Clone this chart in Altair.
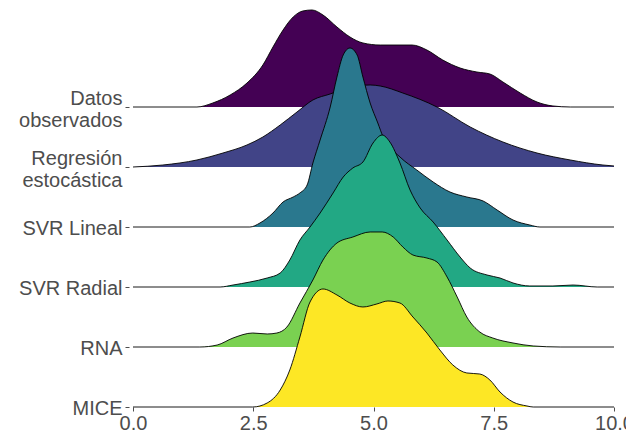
import json
import altair as alt
import pandas as pd

# Ridge names, top to bottom
series = ["Datos\nobservados", "Regresión\nestocástica", "SVR Lineal", "SVR Radial", "RNA", "MICE"]
colors = ["#440154", "#414487", "#2A788E", "#22A884", "#7AD151", "#FDE725"]

# Density curves (x value, scaled density height)
datos_x = [0, 1.33, 1.66, 2.02, 2.37, 2.70, 2.91, 3.12, 3.33, 3.53, 3.72, 3.95, 4.24, 4.51, 4.78, 5.14, 5.80, 6.11, 6.44, 6.80, 7.15, 7.42, 7.69, 8.05, 8.40, 8.73, 9.09, 10]
datos_h = [0, 0, 0.067, 0.2, 0.4, 0.7, 1.0, 1.283, 1.5, 1.6, 1.617, 1.533, 1.333, 1.167, 1.067, 1.033, 1.033, 0.95, 0.783, 0.65, 0.583, 0.55, 0.417, 0.233, 0.083, 0.017, 0, 0]

regr_x = [0, 0.62, 1.33, 1.87, 2.37, 2.70, 3.06, 3.41, 3.74, 4.10, 4.51, 4.93, 5.14, 5.61, 6.32, 7.01, 7.69, 8.40, 9.09, 9.77, 10]
regr_h = [0, 0.033, 0.117, 0.233, 0.367, 0.5, 0.7, 0.917, 1.117, 1.217, 1.33, 1.367, 1.35, 1.233, 1.0, 0.667, 0.417, 0.233, 0.117, 0.033, 0.017]

svrl_x = [0, 2.43, 2.64, 2.91, 3.12, 3.33, 3.47, 3.62, 3.74, 3.89, 4.10, 4.24, 4.37, 4.51, 4.66, 4.78, 4.93, 5.09, 5.20, 5.55, 5.90, 6.24, 6.59, 6.94, 7.28, 7.57, 7.90, 8.25, 8.46, 10]
svrl_h = [0, 0, 0.067, 0.233, 0.417, 0.5, 0.567, 0.7, 1.067, 1.45, 2.0, 2.5, 2.867, 2.983, 2.867, 2.5, 2.067, 1.733, 1.5, 1.167, 0.95, 0.75, 0.583, 0.5, 0.433, 0.283, 0.117, 0.033, 0, 0]

svrr_x = [0, 1.81, 2.08, 2.43, 2.79, 3.06, 3.26, 3.47, 3.68, 3.89, 4.16, 4.37, 4.57, 4.78, 4.99, 5.18, 5.34, 5.55, 5.76, 5.97, 6.24, 6.53, 6.80, 7.01, 7.36, 7.63, 7.90, 8.25, 8.73, 9.15, 9.65, 10]
svrr_h = [0, 0, 0.033, 0.083, 0.15, 0.233, 0.45, 0.783, 1.0, 1.233, 1.567, 1.833, 1.983, 2.083, 2.4, 2.533, 2.417, 2.067, 1.617, 1.317, 1.083, 0.783, 0.5, 0.317, 0.2, 0.15, 0.067, 0.017, 0.017, 0.033, 0, 0]

rna_x = [0, 1.39, 1.75, 2.08, 2.49, 2.79, 2.99, 3.20, 3.47, 3.74, 3.95, 4.24, 4.57, 4.93, 5.18, 5.41, 5.61, 5.82, 6.11, 6.32, 6.53, 6.74, 6.94, 7.21, 7.48, 7.90, 8.32, 8.88, 10]
rna_h = [0, 0, 0.033, 0.15, 0.233, 0.217, 0.233, 0.333, 0.733, 1.117, 1.45, 1.733, 1.833, 1.917, 1.917, 1.833, 1.667, 1.533, 1.483, 1.417, 1.167, 0.833, 0.5, 0.25, 0.15, 0.067, 0.017, 0, 0]

mice_x = [0, 2.49, 2.79, 3.06, 3.26, 3.47, 3.68, 3.95, 4.24, 4.51, 4.78, 5.07, 5.30, 5.55, 5.82, 6.11, 6.38, 6.65, 6.94, 7.21, 7.42, 7.63, 7.90, 8.19, 8.32, 10]
mice_h = [0, 0, 0.067, 0.283, 0.617, 1.167, 1.75, 1.967, 1.867, 1.733, 1.667, 1.717, 1.767, 1.733, 1.5, 1.233, 0.95, 0.7, 0.567, 0.55, 0.45, 0.25, 0.083, 0.017, 0, 0]

x_ticks = [0, 2.5, 5, 7.5, 10]

curves = [(datos_x, datos_h), (regr_x, regr_h), (svrl_x, svrl_h),
          (svrr_x, svrr_h), (rna_x, rna_h), (mice_x, mice_h)]

rows = []
n = len(series)
for i, (name, (xs, hs)) in enumerate(zip(series, curves)):
    base = n - 1 - i
    for xv, hv in zip(xs, hs):
        rows.append({"serie": name, "x": xv, "base": base, "y": base + hv})
df = pd.DataFrame(rows)

# label expression for the y axis (multi-line labels)
parts = []
multi = []
for i, name in enumerate(series):
    base = n - 1 - i
    lines = json.dumps(name.split("\n"), ensure_ascii=False)
    parts.append(f"datum.value == {base} ? {lines}")
    if "\n" in name:
        multi.append(f"datum.value == {base}")
label_expr = " : ".join(parts) + " : ''"
multi_test = " || ".join(multi)

FONT = "Liberation Sans"
GREY = "#4D4D4D"

x_enc = alt.X("x:Q", scale=alt.Scale(domain=[0, 10], nice=False, zero=False),
              axis=alt.Axis(values=x_ticks, format=".1f", title=None, grid=False, domain=False,
                            tickSize=4, tickColor=GREY, labelColor=GREY, labelFontSize=20,
                            labelFont=FONT, labelPadding=2, labelFlush=False, labelOverlap=False))
y_axis = alt.Axis(values=list(range(n)), labelExpr=label_expr, title=None, grid=False, domain=False,
                  tickSize=4, tickColor=GREY, labelColor=GREY, labelFontSize=20, labelFont=FONT,
                  labelPadding=3, offset=4, labelLineHeight=22, labelBaseline="middle",
                  labelOffset={"condition": {"test": multi_test, "value": -9}, "value": 1})
y_scale = alt.Scale(domain=[0, 6.65], nice=False, zero=False)

base_chart = alt.Chart(df)
layers = []
for i, name in enumerate(series):
    sub = base_chart.transform_filter(alt.datum.serie == name)
    area = sub.mark_area(interpolate="monotone", color=colors[i], opacity=1).encode(
        x=x_enc,
        y=alt.Y("y:Q", scale=y_scale, axis=y_axis, stack=None),
        y2="base:Q",
    )
    line = sub.mark_line(interpolate="monotone", color="black", strokeWidth=0.9).encode(
        x=x_enc,
        y=alt.Y("y:Q", scale=y_scale, axis=y_axis),
        order="x:Q",
    )
    layers += [area, line]

chart = alt.layer(*layers).properties(
    width=481, height=399,
    autosize=alt.AutoSizeParams(type="none"),
    padding={"left": 125, "top": 0, "right": 12, "bottom": 31},
    background="white",
).configure_view(stroke=None)

chart.save("out.html", embed_options={"renderer": "svg", "actions": False})
